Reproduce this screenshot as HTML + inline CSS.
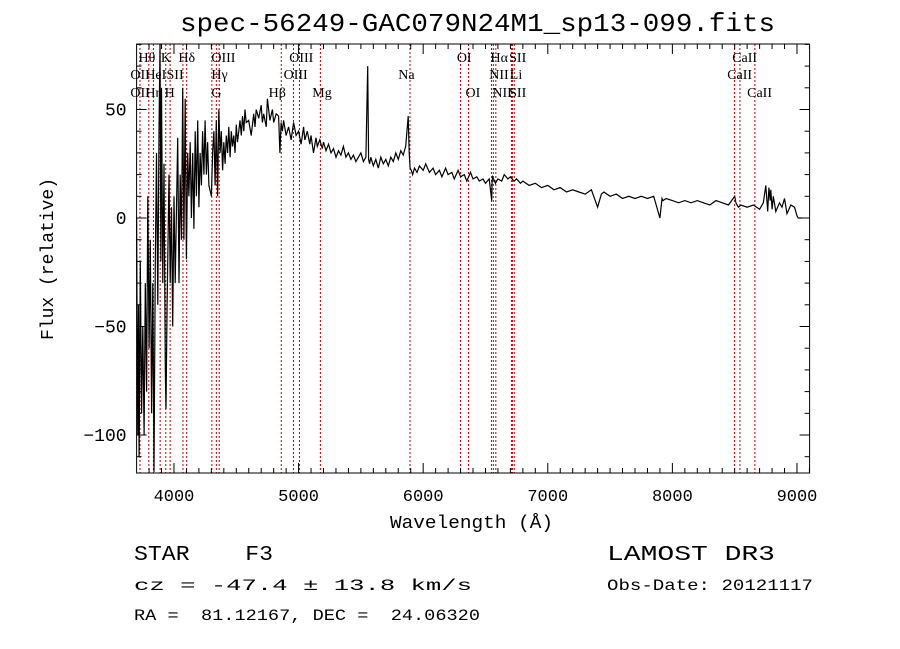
<!DOCTYPE html>
<html><head><meta charset="utf-8"><style>
body{margin:0;background:#fff}
svg{display:block}
text{font-family:"Liberation Serif",serif;fill:#000}
.m{font-family:"Liberation Mono",monospace}
</style></head><body>
<svg id="chart" width="900" height="649" viewBox="0 0 900 649" xmlns="http://www.w3.org/2000/svg">
<text class="m" x="180" y="31" font-size="26" textLength="595" lengthAdjust="spacingAndGlyphs">spec-56249-GAC079N24M1_sp13-099.fits</text>
<g id="lines"></g>
<g id="labels"></g>
<path id="spec" fill="none" stroke="#000" stroke-width="1.2"/>
<rect x="136.6" y="44" width="673" height="429" fill="none" stroke="#000" stroke-width="1"/>
<g id="ticks"></g>
<text class="m" x="390" y="528" font-size="18" textLength="163" lengthAdjust="spacingAndGlyphs">Wavelength (Å)</text>
<text class="m" transform="translate(53,259) rotate(-90)" font-size="18" text-anchor="middle">Flux (relative)</text>
<text class="m" x="134" y="560" font-size="21" textLength="139" lengthAdjust="spacingAndGlyphs" xml:space="preserve">STAR    F3</text>
<text class="m" x="607" y="560" font-size="21" textLength="168" lengthAdjust="spacingAndGlyphs">LAMOST DR3</text>
<text class="m" x="134" y="590" font-size="16" textLength="338" lengthAdjust="spacingAndGlyphs" xml:space="preserve">cz = -47.4 ± 13.8 km/s</text>
<text class="m" x="607" y="590" font-size="16" textLength="206" lengthAdjust="spacingAndGlyphs">Obs-Date: 20121117</text>
<text class="m" x="134" y="620" font-size="16" textLength="346" lengthAdjust="spacingAndGlyphs" xml:space="preserve">RA =  81.12167, DEC =  24.06320</text>
</svg>
<script>
const wave=[3700,3705,3710,3715,3720,3725,3730,3740,3750,3760,3770,3780,3790,3800,3810,3820,3830,3840,3850,3860,3870,3880,3888,3895,3900,3910,3920,3930,3936,3945,3960,3970,3980,3990,4000,4010,4020,4030,4040,4050,4060,4070,4080,4090,4100,4110,4120,4130,4140,4150,4160,4170,4180,4190,4200,4210,4220,4230,4240,4250,4260,4270,4280,4300,4310,4320,4330,4340,4350,4360,4370,4380,4390,4400,4410,4420,4430,4440,4450,4460,4470,4480,4490,4500,4510,4520,4530,4540,4550,4560,4570,4580,4600,4620,4640,4650,4660,4680,4700,4710,4720,4740,4750,4770,4790,4800,4820,4840,4850,4860,4870,4880,4900,4920,4940,4960,4980,5000,5020,5040,5050,5070,5090,5100,5120,5140,5150,5170,5190,5200,5220,5240,5260,5280,5300,5320,5340,5360,5380,5400,5420,5440,5460,5480,5500,5520,5540,5555,5562,5566,5570,5580,5600,5620,5640,5660,5680,5700,5720,5740,5760,5780,5800,5820,5840,5860,5880,5888,5895,5905,5915,5930,5950,5970,6000,6020,6050,6080,6100,6130,6150,6180,6200,6230,6250,6280,6300,6330,6350,6380,6400,6430,6450,6480,6500,6530,6550,6553,6558,6580,6600,6630,6650,6680,6700,6730,6750,6780,6800,6850,6900,6950,7000,7050,7100,7150,7200,7250,7300,7350,7400,7430,7450,7500,7550,7600,7650,7700,7750,7800,7850,7900,7917,7925,7950,8000,8050,8100,8150,8200,8250,8300,8350,8400,8450,8500,8510,8530,8550,8600,8650,8700,8730,8750,8765,8775,8785,8790,8800,8810,8830,8860,8880,8900,8920,8950,8980,9000,9010,9040];
const flux=[0,-60,-100,-40,-110,-70,-20,-90,-50,-100,-30,-80,10,-60,-10,-90,-30,-117,-20,30,-40,40,80,-20,60,-30,25,-70,-88,-40,20,-30,5,-50,10,-30,5,37,-30,20,-10,60,-10,55,-19,30,10,35,0,30,-5,40,10,45,5,30,15,40,20,45,20,35,15,10,30,40,15,45,10,50,30,40,22,35,25,38,30,42,28,40,33,38,30,43,35,40,45,38,47,40,50,44,45,38,48,42,50,46,52,44,48,42,55,45,50,44,48,47,30,44,40,45,38,42,36,44,38,40,34,42,36,40,34,38,30,37,33,36,32,35,31,34,30,32,28,31,29,33,28,30,27,29,26,28,30,26,28,70,27,26,25,28,24,27,23,28,25,27,24,28,26,30,27,31,29,33,47,30,23,22,20,23,21,24,22,25,21,23,20,22,19,23,20,21,18,22,19,20,17,21,18,19,17,18,16,18,8,17,19,16,18,17,20,18,19,17,18,16,17,15,16,14,15,13,14,12,13,12,11,13,5,11,12,10,11,9,10,9,10,9,10,0,9,8,9,8,7,8,7,8,7,6,8,7,6,10,7,5,6,5,6,4,7,15,3,14,8,13,4,10,3,7,5,9,2,6,5,1,0,0];
const lineWaves=[3727,3798,3835,3889,3934,3969,4072,4102,4304,4340,4363,4861,4959,5007,5175,5894,6300,6364,6548,6563,6583,6708,6716,6731,8498,8542,8662];
const labelText=["Hθ","K","Hδ","OIII","OIII","OI","Hα","SII","CaII","OII","HeI","SII","Hγ","OIII","Na","NII","Li","CaII","OII","Hη","H","G","Hβ","Mg","OI","NII","SII","CaII"];
const labelWave=[3715,3895,4035,4300,4925,6270,6540,6690,8480,3650,3770,3940,4300,4880,5800,6530,6695,8440,3650,3770,3925,4300,4760,5110,6340,6555,6690,8600];
const labelRow=[0,0,0,0,0,0,0,0,0,1,1,1,1,1,1,1,1,1,2,2,2,2,2,2,2,2,2,2];
const xTicks=[4000,5000,6000,7000,8000,9000];
const yTicks=[-100,-50,0,50];
const X0=136.6,XS=0.1246,W0=3700,Y0=218,YS=2.17,L=136.6,R=809.6,T=44,B=473;
const xs=w=>X0+(w-W0)*XS, ys=f=>Y0-f*YS;
const NS="http://www.w3.org/2000/svg";
function mk(tag,parent,attrs){const e=document.createElementNS(NS,tag);for(const k in attrs)e.setAttribute(k,attrs[k]);parent.appendChild(e);return e;}
let d="";
for(let i=0;i<wave.length;i++){let x=Math.min(R,xs(wave[i])),y=Math.max(T,Math.min(B,ys(flux[i])));d+=(i?"L":"M")+x.toFixed(1)+","+y.toFixed(1);}
document.getElementById("spec").setAttribute("d",d);
const lg=document.getElementById("lines");
lineWaves.forEach(w=>{const l=mk("line",lg,{x1:xs(w),x2:xs(w),y1:T,y2:B,stroke:"#c00000","stroke-width":1,"stroke-dasharray":"2,2"});

});
const lb=document.getElementById("labels");
const rowY=[62,79,97];
labelText.forEach((t,i)=>{const e=mk("text",lb,{x:xs(labelWave[i]),y:rowY[labelRow[i]],"font-size":14});e.textContent=t;

});
const tg=document.getElementById("ticks");
for(let w=3800;w<=9100;w+=100){const x=xs(w),maj=w%1000===0,len=maj?10:5;
mk("line",tg,{x1:x,x2:x,y1:B,y2:B-len,stroke:"#000"});mk("line",tg,{x1:x,x2:x,y1:T,y2:T+len,stroke:"#000"});}
for(let f=-110;f<=80;f+=10){const y=ys(f),maj=f%50===0,len=maj?10:5;
mk("line",tg,{x1:L,x2:L+len,y1:y,y2:y,stroke:"#000"});mk("line",tg,{x1:R,x2:R-len,y1:y,y2:y,stroke:"#000"});}
xTicks.forEach(w=>{const e=mk("text",tg,{x:xs(w),y:B+28,"font-size":17,"text-anchor":"middle",class:"m"});e.textContent=w;

});
yTicks.forEach(f=>{const e=mk("text",tg,{x:L-10,y:ys(f)+6,"font-size":18,"text-anchor":"end",class:"m"});e.textContent=f<0?"−"+(-f):f;

});
</script>
</body></html>
